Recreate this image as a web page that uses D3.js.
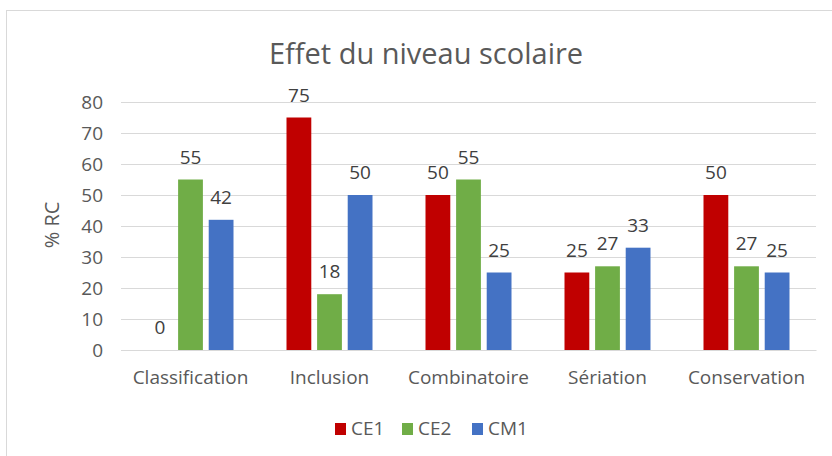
<!DOCTYPE html>
<html><head><meta charset="utf-8">
<script src="https://cdn.jsdelivr.net/npm/d3@7"></script>
<style>body{margin:0;background:#fff}svg{display:block}</style>
</head><body>
<svg id="c" width="832" height="456"></svg>
<script>
const categories = ["Classification","Inclusion","Combinatoire","Sériation","Conservation"];
const seriesNames = ["CE1","CE2","CM1"];
const CE1 = [0,75,50,25,50];
const CE2 = [55,18,55,27,27];
const CM1 = [42,50,25,33,25];
const colors = ["#C00000","#70AD47","#4472C4"];
const yTicks = [0,10,20,30,40,50,60,70,80];
const seriesValues = [CE1,CE2,CM1];
const font = "'Open Sans', 'Liberation Sans', sans-serif";

const svg = d3.select("#c");
svg.append("rect").attr("x",6.5).attr("y",10.5).attr("width",840).attr("height",460)
  .attr("fill","#fff").attr("stroke","#d9d9d9");

const m = {l:121,r:816,t:102,b:350};
const x = d3.scaleBand().domain(categories).range([m.l,m.r]);
const groupW = 86;
const xs = d3.scaleBand().domain(seriesNames).range([0,groupW]).paddingInner(0.19);
const y = d3.scaleLinear().domain([0,80]).range([m.b,m.t]);

const gy = svg.append("g").attr("transform",`translate(${m.l},0)`)
  .call(d3.axisLeft(y).tickValues(yTicks).tickSize(-(m.r-m.l)).tickPadding(18));
gy.select(".domain").remove();
gy.selectAll(".tick line").attr("stroke","#d9d9d9");
gy.selectAll(".tick text").attr("fill","#595959").style("font-family",font).style("font-size","19px");

const gx = svg.append("g").attr("transform",`translate(0,${m.b})`)
  .call(d3.axisBottom(x).tickSize(0).tickPadding(21));
gx.select(".domain").attr("stroke","#d9d9d9");
gx.selectAll(".tick text").attr("fill","#595959").style("font-family",font).style("font-size","19px");

seriesNames.forEach((s,si)=>{
  const g = svg.append("g");
  const off = (x.bandwidth()-groupW)/2;
  g.selectAll("rect").data(seriesValues[si]).join("rect")
    .attr("x",(d,i)=>x(categories[i])+off+xs(s))
    .attr("width",xs.bandwidth())
    .attr("y",d=>y(d)).attr("height",d=>y(0)-y(d))
    .attr("fill",colors[si]);
  g.selectAll("text").data(seriesValues[si]).join("text")
    .attr("x",(d,i)=>x(categories[i])+off+xs(s)+xs.bandwidth()/2)
    .attr("y",d=>y(d)-16)
    .attr("text-anchor","middle").attr("fill","#404040")
    .style("font-family",font).style("font-size","19px")
    .text(d=>d);
});

svg.append("text").attr("x",426).attr("y",64).attr("text-anchor","middle")
  .attr("fill","#595959").style("font-family",font).style("font-size","29px")
  .text("Effet du niveau scolaire");

svg.append("text").attr("transform","translate(59,225) rotate(-90)")
  .attr("text-anchor","middle").attr("fill","#595959")
  .style("font-family",font).style("font-size","20px").text("% RC");

const lg = svg.append("g");
const lx = [335,402,472];
seriesNames.forEach((s,i)=>{
  lg.append("rect").attr("x",lx[i]).attr("y",423).attr("width",11).attr("height",12).attr("fill",colors[i]);
  lg.append("text").attr("x",lx[i]+16).attr("y",435).attr("fill","#595959")
    .style("font-family",font).style("font-size","19px").text(s);
});
</script>
</body></html>
